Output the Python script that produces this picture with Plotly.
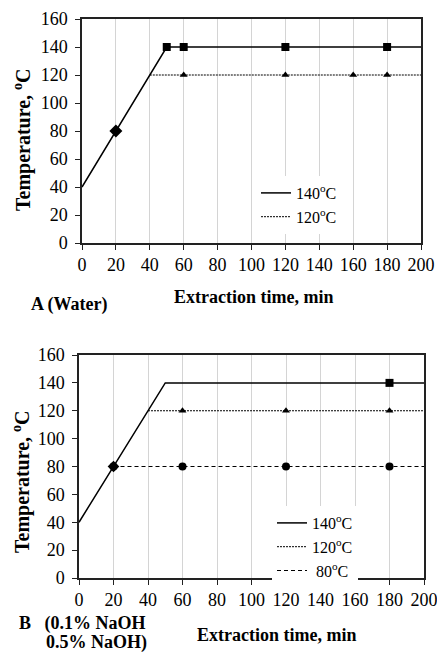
import plotly.graph_objects as go

# ---------------- data ----------------
# Panel A (Water)
a140_line_x = [0, 50, 200]
a140_line_y = [40, 140, 140]
a140_sq_x = [50, 60, 120, 180]
a140_sq_y = [140, 140, 140, 140]
a_diam_x = [20]
a_diam_y = [80]
a120_line_x = [40, 200]
a120_line_y = [120, 120]
a120_tri_x = [60, 120, 160, 180]
a120_tri_y = [120, 120, 120, 120]

# Panel B (NaOH)
b140_line_x = [0, 50, 200]
b140_line_y = [40, 140, 140]
b140_sq_x = [180]
b140_sq_y = [140]
b_diam_x = [20]
b_diam_y = [80]
b120_line_x = [40, 200]
b120_line_y = [120, 120]
b120_tri_x = [60, 120, 180]
b120_tri_y = [120, 120, 120]
b80_line_x = [20, 200]
b80_line_y = [80, 80]
b80_circ_x = [20, 60, 120, 180]
b80_circ_y = [80, 80, 80, 80]

x_ticks = [0, 20, 40, 60, 80, 100, 120, 140, 160, 180, 200]
y_ticks = [0, 20, 40, 60, 80, 100, 120, 140, 160]

FONT = "Liberation Serif"
W, H = 437, 652

fig = go.Figure()

def line(x, y, dash, width, name, xa, ya, legend, show=True):
    fig.add_trace(go.Scatter(x=x, y=y, mode="lines", name=name,
                             line=dict(color="black", dash=dash, width=width),
                             xaxis=xa, yaxis=ya, legend=legend, showlegend=show))

def marks(x, y, symbol, size, xa, ya):
    fig.add_trace(go.Scatter(x=x, y=y, mode="markers", showlegend=False,
                             marker=dict(symbol=symbol, size=size, color="black"),
                             xaxis=xa, yaxis=ya))

DOT = "2px,1px"
DASH = "4px,3px"

# Panel A
line(a140_line_x, a140_line_y, "solid", 1.5, "140<sup>o</sup>C", "x", "y", "legend")
line(a120_line_x, a120_line_y, DOT, 1, "120<sup>o</sup>C", "x", "y", "legend")
marks(a140_sq_x, a140_sq_y, "square", 8, "x", "y")
marks(a_diam_x, a_diam_y, "diamond", 10, "x", "y")
marks(a120_tri_x, a120_tri_y, "triangle-up", 7, "x", "y")

# Panel B
line(b140_line_x, b140_line_y, "solid", 1.5, "140<sup>o</sup>C", "x2", "y2", "legend2")
line(b120_line_x, b120_line_y, DOT, 1, "120<sup>o</sup>C", "x2", "y2", "legend2")
line(b80_line_x, b80_line_y, DASH, 1.2, " 80<sup>o</sup>C", "x2", "y2", "legend2")
marks(b140_sq_x, b140_sq_y, "square", 8, "x2", "y2")
marks(b_diam_x, b_diam_y, "diamond", 9, "x2", "y2")
marks(b80_circ_x, b80_circ_y, "circle", 8, "x2", "y2")
marks(b120_tri_x, b120_tri_y, "triangle-up", 7, "x2", "y2")

def px_x(p):
    return p / W

def px_y(p):
    return 1 - p / H

tickfont = dict(family=FONT, size=18, color="black")
xax = dict(range=[0, 200], tickvals=x_ticks, showgrid=True, gridcolor="#d4d4d4",
           gridwidth=1, showline=True, linecolor="#222", linewidth=1.5, mirror=True,
           ticks="outside", ticklen=5, tickcolor="#222", zeroline=False, automargin=False,
           ticklabeloverflow="allow", tickfont=tickfont)
yax = dict(range=[0, 160], tickvals=y_ticks, showgrid=False, showline=True,
           linecolor="#222", linewidth=1.5, mirror=True, ticks="outside", ticklen=5,
           tickcolor="#222", zeroline=False, automargin=False, ticklabelstandoff=4,
           ticklabeloverflow="allow", tickfont=tickfont)

legfont = dict(family=FONT, size=16, color="black")
fig.update_layout(
    width=W, height=H, margin=dict(l=0, r=0, t=0, b=0, autoexpand=False),
    paper_bgcolor="white", plot_bgcolor="white",
    font=dict(family=FONT, color="black"),
    xaxis=dict(xax, domain=[px_x(82), px_x(421)], anchor="y"),
    yaxis=dict(yax, domain=[px_y(243), px_y(19)], anchor="x"),
    xaxis2=dict(xax, domain=[px_x(79), px_x(424)], anchor="y2"),
    yaxis2=dict(yax, domain=[px_y(578), px_y(355)], anchor="x2"),
    legend=dict(x=px_x(256), y=px_y(176), xanchor="left", yanchor="top",
                bgcolor="white", font=legfont, tracegroupgap=0),
    legend2=dict(x=px_x(272), y=px_y(506), xanchor="left", yanchor="top",
                 bgcolor="white", font=legfont, tracegroupgap=0),
)

ann = []

def add(text, x, y, angle=0, xanchor="center", size=18):
    ann.append(dict(text=text, x=px_x(x), y=px_y(y), xref="paper", yref="paper",
                    textangle=angle, showarrow=False,
                    font=dict(family=FONT, size=size, color="black"),
                    xanchor=xanchor, yanchor="middle"))

add("<b>Temperature, <sup>o</sup>C</b>", 22, 140, -90, size=20)
add("<b>Temperature, <sup>o</sup>C</b>", 22, 482, -90, size=20)
add("<b>Extraction time, min</b>", 253, 297)
add("<b>Extraction time, min</b>", 276, 635)
add("<b>A (Water)</b>", 29, 304, xanchor="left")
add("<b>B   (0.1% NaOH</b>", 17, 623, xanchor="left")
add("<b>0.5% NaOH)</b>", 44, 642, xanchor="left")
fig.update_layout(annotations=ann)

fig.write_html("out.html")
